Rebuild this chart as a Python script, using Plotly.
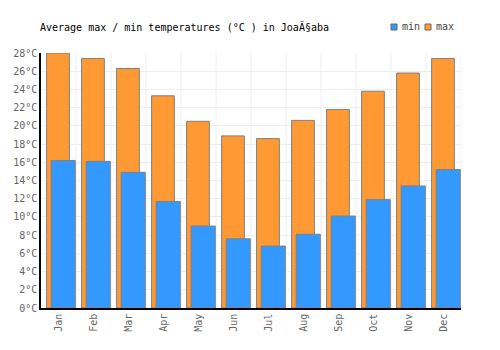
import plotly.graph_objects as go

months = ["Jan", "Feb", "Mar", "Apr", "May", "Jun", "Jul", "Aug", "Sep", "Oct", "Nov", "Dec"]
t_max = [28.0, 27.4, 26.3, 23.3, 20.5, 18.9, 18.6, 20.6, 21.8, 23.8, 25.8, 27.4]
t_min = [16.2, 16.1, 14.9, 11.7, 9.0, 7.6, 6.8, 8.1, 10.1, 11.9, 13.4, 15.2]
y_ticks = list(range(0, 29, 2))
y_labels = [f"{v}°C" for v in y_ticks]

MONO = "DejaVu Sans Mono"
W, H = 500, 350
BLUE, ORANGE, EDGE = "#3399ff", "#ff9933", "#808080"

fig = go.Figure()
fig.add_trace(go.Bar(
    x=months, y=t_max, name="max",
    marker=dict(color=ORANGE, line=dict(color=EDGE, width=1)),
    offset=-0.34, width=0.65,
))
fig.add_trace(go.Bar(
    x=months, y=t_min, name="min",
    marker=dict(color=BLUE, line=dict(color=EDGE, width=1)),
    offset=-0.21, width=0.69,
))

shapes = []
for i in range(len(months)):
    shapes.append(dict(type="line", xref="x", yref="paper", x0=i + 0.5, x1=i + 0.5, y0=0, y1=1,
                       line=dict(color="#eeeeee", width=1), layer="below"))

# custom compact legend (top right)
annotations = []
legend_items = [("min", BLUE, 391), ("max", ORANGE, 425)]
for name, col, px in legend_items:
    shapes.append(dict(type="rect", xref="paper", yref="paper",
                       x0=(px - 41) / 420, x1=(px + 6 - 41) / 420,
                       y0=(H - 42 - 30 - 0) / 255 - 0 if False else (308 - 30) / 255,
                       y1=(308 - 24) / 255,
                       fillcolor=col, line=dict(color="#666666", width=1)))
    annotations.append(dict(text=name, xref="paper", yref="paper",
                            x=(px + 9 - 41) / 420, y=(308 - 27) / 255,
                            xanchor="left", yanchor="middle", showarrow=False,
                            font=dict(family=MONO, size=10, color="#444444")))

fig.update_layout(
    width=W, height=H,
    margin=dict(l=41, r=39, t=53, b=42),
    paper_bgcolor="white", plot_bgcolor="white",
    barmode="overlay",
    showlegend=False,
    font=dict(family=MONO, size=10, color="#666666"),
    title=dict(text="Average max / min temperatures (°C ) in JoaÃ§aba",
               x=40 / W, xanchor="left", y=1 - 27 / H, yanchor="middle",
               font=dict(family=MONO, size=10, color="#000000")),
    xaxis=dict(type="category", range=[-0.5, 11.5], showgrid=False,
               showline=True, linecolor="#000000", linewidth=1.5,
               tickangle=-90, ticks="", tickfont=dict(family=MONO, size=10, color="#666666")),
    yaxis=dict(range=[0, 28], tickvals=y_ticks, ticktext=y_labels,
               showgrid=True, gridcolor="#eeeeee", gridwidth=1,
               showline=True, linecolor="#000000", linewidth=1.5, zeroline=False,
               ticks="", tickfont=dict(family=MONO, size=10, color="#666666")),
    shapes=shapes,
    annotations=annotations,
)
fig.write_html("out.html")
